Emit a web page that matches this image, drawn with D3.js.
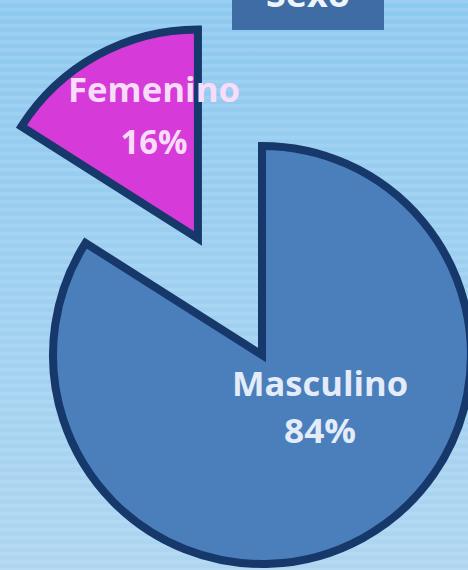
<!DOCTYPE html>
<html><head><meta charset="utf-8">
<script src="https://cdn.jsdelivr.net/npm/d3@7"></script>
<style>html,body{margin:0;padding:0;overflow:hidden;background:#9ccfef}</style>
</head><body>
<svg id="chart" width="468" height="570"></svg>
<script>
const title = "Sexo";
const categories = ["Masculino", "Femenino"];
const values = [84, 16];
const labels = ["84%", "16%"];
const fills = ["#4a7fbc", "#d63bd9"];

const W = 468, H = 570;
const svg = d3.select("#chart");
const defs = svg.append("defs");
const g = defs.append("linearGradient").attr("id","bg").attr("x1",0).attr("y1",0).attr("x2",0).attr("y2",1);
g.append("stop").attr("offset","0%").attr("stop-color","#8ec9ef");
g.append("stop").attr("offset","100%").attr("stop-color","#aed6f1");
const pat = defs.append("pattern").attr("id","stripes").attr("patternUnits","userSpaceOnUse")
  .attr("width",8).attr("height",8);
pat.append("rect").attr("width",8).attr("height",3.5).attr("fill","#ffffff").attr("opacity",0.1);

svg.append("rect").attr("width",W).attr("height",H).attr("fill","url(#bg)");
svg.append("rect").attr("width",W).attr("height",H).attr("fill","url(#stripes)");

// title box
svg.append("rect").attr("x",232).attr("y",-20).attr("width",152).attr("height",50).attr("fill","#3f6ca4");
svg.append("text").attr("x",308).attr("y",7).attr("text-anchor","middle")
  .attr("font-family","Open Sans").attr("font-weight",700).attr("font-size",36)
  .attr("fill","#eef4fb").text(title);

const cx = 262, cy = 355, r = 209;
const explode = [0, 133];
const pie = d3.pie().sort(null).value(d => d)(values);
const arc = d3.arc().innerRadius(0).outerRadius(r);

const slices = svg.append("g").attr("transform", `translate(${cx},${cy})`);
pie.forEach((p, i) => {
  const mid = (p.startAngle + p.endAngle) / 2;
  const dx = Math.sin(mid) * explode[i], dy = -Math.cos(mid) * explode[i];
  const sg = slices.append("g").attr("transform", `translate(${dx},${dy})`);
  sg.append("path").attr("d", arc(p)).attr("fill", fills[i])
    .attr("stroke", "#16386a").attr("stroke-width", 8).attr("stroke-linejoin","miter");
});

// labels
const labelPos = [
  {x: 320, y1: 396, y2: 443, w1: 176, w2: 72},
  {x: 154, y1: 102, y2: 154, w1: 172, w2: 67}
];
const txtFill = ["#e3ecf8", "#f9dcf9"];
pie.forEach((p, i) => {
  const lp = labelPos[i];
  const tg = svg.append("g").attr("font-family","Open Sans").attr("font-weight",700)
    .attr("font-size",34).attr("text-anchor","middle").attr("fill", txtFill[i]);
  tg.append("text").attr("x", lp.x).attr("y", lp.y1)
    .attr("textLength", lp.w1).attr("lengthAdjust","spacingAndGlyphs").text(categories[i]);
  tg.append("text").attr("x", lp.x).attr("y", lp.y2)
    .attr("textLength", lp.w2).attr("lengthAdjust","spacingAndGlyphs").text(labels[i]);
});
</script>
</body></html>
